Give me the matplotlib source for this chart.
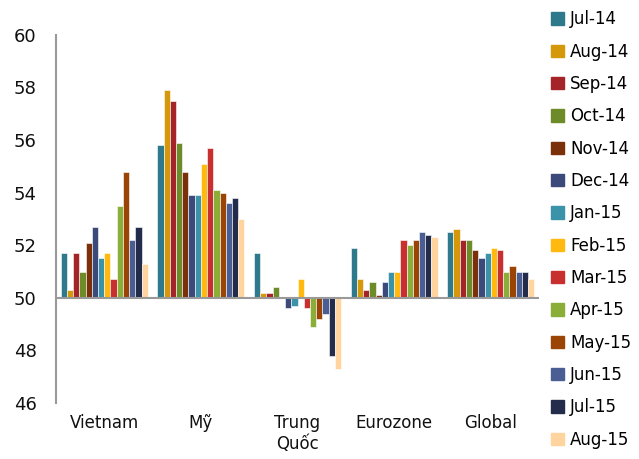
import matplotlib.pyplot as plt
import matplotlib.patches as mpatches
import numpy as np

regions = ['Vietnam', 'Mỹ', 'Trung\nQuốc', 'Eurozone', 'Global']
months = ['Jul-14', 'Aug-14', 'Sep-14', 'Oct-14', 'Nov-14', 'Dec-14', 'Jan-15',
          'Feb-15', 'Mar-15', 'Apr-15', 'May-15', 'Jun-15', 'Jul-15', 'Aug-15']

# PMI per region, one list per month
pmi_vietnam = [51.7, 50.3, 51.7, 51.0, 52.1, 52.7, 51.5, 51.7, 50.7, 53.5, 54.8, 52.2, 52.7, 51.3]
pmi_my = [55.8, 57.9, 57.5, 55.9, 54.8, 53.9, 53.9, 55.1, 55.7, 54.1, 54.0, 53.6, 53.8, 53.0]
pmi_trungquoc = [51.7, 50.2, 50.2, 50.4, 50.0, 49.6, 49.7, 50.7, 49.6, 48.9, 49.2, 49.4, 47.8, 47.3]
pmi_eurozone = [51.9, 50.7, 50.3, 50.6, 50.1, 50.6, 51.0, 51.0, 52.2, 52.0, 52.2, 52.5, 52.4, 52.3]
pmi_global = [52.5, 52.6, 52.2, 52.2, 51.8, 51.5, 51.7, 51.9, 51.8, 51.0, 51.2, 51.0, 51.0, 50.7]

colors = ['#2E7A8C', '#D4980A', '#A52428', '#6E8B2A', '#7A3008', '#3B4A7A', '#3A93A8',
          '#FFB90F', '#C8302F', '#8AAE38', '#9A4506', '#4A5E94', '#232C4A', '#FFD49E']

data = np.array([pmi_vietnam, pmi_my, pmi_trungquoc, pmi_eurozone, pmi_global])
base = 50

fig = plt.figure(figsize=(6.39, 4.59), dpi=100)
ax = fig.add_axes([0.0876, 0.122, 0.756, 0.802])

x = np.arange(len(regions))
n = len(months)
width = 0.9 / n
for i in range(n):
    offs = (i - (n - 1) / 2) * width
    ax.bar(x + offs, data[:, i] - base, width, bottom=base, color=colors[i],
           edgecolor='white', linewidth=0.4, zorder=2)

ax.axhline(base, color='#999999', linewidth=1.5, zorder=3)
ax.set_xlim(-0.5, len(regions) - 0.5)
ax.set_ylim(46, 60)
ax.set_yticks(range(46, 61, 2))
ax.set_xticks(x)
ax.set_xticklabels(regions)

for s in ['top', 'right', 'bottom']:
    ax.spines[s].set_visible(False)
ax.spines['left'].set_color('#999999')
ax.spines['left'].set_linewidth(1.5)
ax.tick_params(axis='both', length=0, labelsize=12, colors='#111111')
ax.tick_params(axis='y', pad=14)
ax.tick_params(axis='x', pad=8)
for lbl in ax.get_yticklabels():
    lbl.set_fontsize(13)

handles = [mpatches.Patch(color=c, label=m) for c, m in zip(colors, months)]
fig.legend(handles=handles, loc='upper left', bbox_to_anchor=(0.852, 0.992),
           frameon=False, fontsize=12, handlelength=0.75, handleheight=0.75,
           handletextpad=0.4, labelspacing=0.86, borderaxespad=0)

fig.savefig('out.png', dpi=100)
